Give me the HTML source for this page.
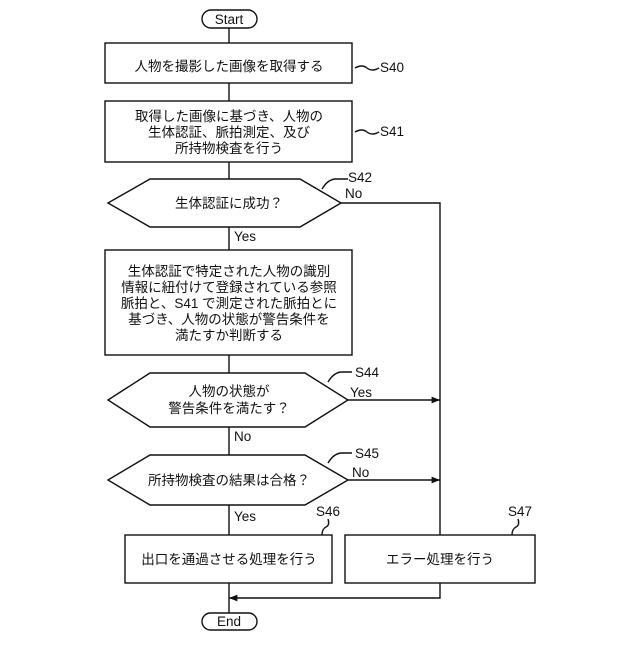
<!DOCTYPE html>
<html><head><meta charset="utf-8"><style>
body{margin:0;background:#fff}
svg text{font-family:"Liberation Sans","Noto Sans CJK JP",sans-serif;fill:#111}
</style></head><body>
<svg width="640" height="640" viewBox="0 0 640 640" xmlns="http://www.w3.org/2000/svg">
<defs><marker id="a" viewBox="0 0 10 10" refX="10" refY="5" markerWidth="8" markerHeight="6" orient="auto"><path d="M0,1 L10,5 L0,9z" fill="#111"/></marker></defs>
<g stroke="#111" stroke-width="1.4" fill="none">
<rect x="202" y="10" width="55" height="18" rx="9" fill="#fff"/>
<rect x="105" y="43" width="247" height="40"/>
<rect x="105" y="101" width="247" height="61"/>
<polygon points="108,203 150,179 300,179 341,203 300,227 150,227"/>
<rect x="105" y="250" width="247" height="105"/>
<polygon points="108,400 150,373 305,373 348,400 305,427 150,427"/>
<polygon points="108,480 150,455 305,455 348,480 305,505 150,505"/>
<rect x="125" y="535" width="207" height="48"/>
<rect x="345" y="535" width="190" height="48"/>
<rect x="202" y="613" width="55" height="17" rx="8.5" fill="#fff"/>
<path d="M229 28V43M229 83V101M229 162V179M229 227V250M229 355V373M229 427V455M229 505V535M229 583V613"/>
<path d="M341 203H440V535"/>
<path d="M348 400H440" marker-end="url(#a)"/>
<path d="M348 480H440" marker-end="url(#a)"/>
<path d="M440 583V598H229" marker-end="url(#a)"/>
<path d="M355 68q7-4 12 0t12 0"/>
<path d="M355 132q7-4 12 0t12 0"/>
<path d="M322 189q6-10 14-10h12"/>
<path d="M328 382q6-10 14-10h10"/>
<path d="M328 463q6-10 14-10h10"/>
<path d="M322 535q0-6 4-8t2-8"/>
<path d="M512 535q0-6 4-8t2-8"/>
</g>
<g font-size="13.5">
<text x="229" y="24" text-anchor="middle">Start</text>
<text x="229" y="626" text-anchor="middle">End</text>
<text x="229" y="71" text-anchor="middle">人物を撮影した画像を取得する</text>
<text x="229" y="121" text-anchor="middle">取得した画像に基づき、人物の</text>
<text x="229" y="137" text-anchor="middle">生体認証、脈拍測定、及び</text>
<text x="229" y="153" text-anchor="middle">所持物検査を行う</text>
<text x="229" y="208" text-anchor="middle">生体認証に成功？</text>
<text x="229" y="276" text-anchor="middle">生体認証で特定された人物の識別</text>
<text x="229" y="292" text-anchor="middle">情報に紐付けて登録されている参照</text>
<text x="229" y="308" text-anchor="middle">脈拍と、S41 で測定された脈拍とに</text>
<text x="229" y="324" text-anchor="middle">基づき、人物の状態が警告条件を</text>
<text x="229" y="340" text-anchor="middle">満たすか判断する</text>
<text x="229" y="396" text-anchor="middle">人物の状態が</text>
<text x="229" y="413" text-anchor="middle">警告条件を満たす？</text>
<text x="229" y="485" text-anchor="middle">所持物検査の結果は合格？</text>
<text x="229" y="564" text-anchor="middle">出口を通過させる処理を行う</text>
<text x="440" y="564" text-anchor="middle">エラー処理を行う</text>
<text x="380" y="72">S40</text>
<text x="380" y="136">S41</text>
<text x="348" y="182">S42</text>
<text x="345" y="198">No</text>
<text x="234" y="241">Yes</text>
<text x="355" y="377">S44</text>
<text x="350" y="397">Yes</text>
<text x="234" y="441">No</text>
<text x="355" y="458">S45</text>
<text x="352" y="477">No</text>
<text x="234" y="521">Yes</text>
<text x="316" y="516">S46</text>
<text x="508" y="516">S47</text>
</g>
</svg>
</body></html>
